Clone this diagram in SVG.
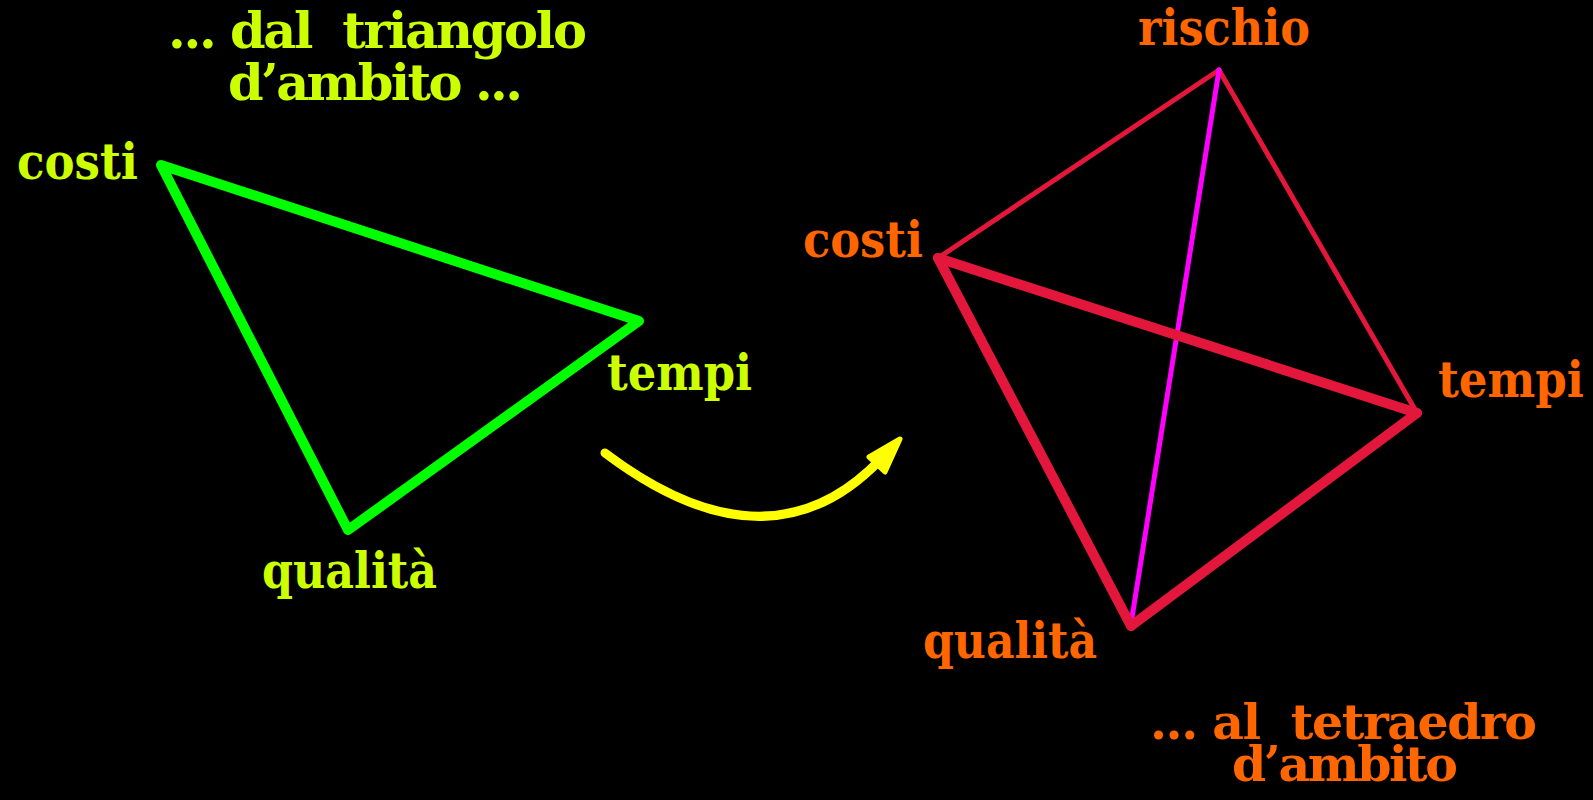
<svg xmlns="http://www.w3.org/2000/svg" width="1593" height="800" viewBox="0 0 1593 800">
<style>
  .t { font-family: "DejaVu Serif", "Liberation Serif", serif; font-weight: bold; font-size: 51px; white-space: pre; }
  .s { font-size: 49px; }
  .g { fill: #ccff00; }
  .o { fill: #ff6600; }
  .tri { fill: none; stroke: #00ff00; stroke-width: 10; stroke-linejoin: round; stroke-linecap: round; }
  .thin { stroke: #e3173b; stroke-width: 5; stroke-linecap: round; }
  .thick { stroke: #e3173b; stroke-width: 10; stroke-linecap: round; }
  .mag { stroke: #ff00ff; stroke-width: 5; stroke-linecap: round; }
</style>
<rect x="0" y="0" width="1593" height="800" fill="#000000"/>

<g id="connectors">
  <polygon id="triangle" class="tri" points="161,165 639,321 348,530"/>
  <line class="thin" x1="938" y1="258" x2="1219" y2="70"/>
  <line class="thin" x1="1219" y1="70" x2="1417" y2="413"/>
  <line class="mag" x1="1219" y1="70" x2="1131" y2="624"/>
  <line class="thick" x1="938" y1="258" x2="1417" y2="413"/>
  <line class="thick" x1="938" y1="258" x2="1131" y2="626"/>
  <line class="thick" x1="1131" y1="626" x2="1417" y2="413"/>
  <g id="arrow">
    <path d="M605,453 Q768,576 880,460" fill="none" stroke="#ffff00" stroke-width="9" stroke-linecap="round"/>
    <polygon points="900,439 869,457 885,472" fill="#ffff00" stroke="#ffff00" stroke-width="5" stroke-linejoin="round"/>
  </g>
</g>

<g id="title-left">
  <text class="t g" x="168" y="48" textLength="419" lengthAdjust="spacing">... dal  triangolo</text>
  <text class="t g" x="228" y="100" textLength="295" lengthAdjust="spacing">d’ambito ...</text>
</g>
<g id="node-costi-left"><text class="t g" x="17" y="179" textLength="121" lengthAdjust="spacingAndGlyphs">costi</text></g>
<g id="node-tempi-left"><text class="t g" x="607" y="390" textLength="145" lengthAdjust="spacingAndGlyphs">tempi</text></g>
<g id="node-qualita-left"><text class="t g" x="262" y="588" textLength="175" lengthAdjust="spacingAndGlyphs">qualità</text></g>

<g id="node-rischio"><text class="t o" x="1138" y="45" textLength="172" lengthAdjust="spacingAndGlyphs">rischio</text></g>
<g id="node-costi-right"><text class="t o" x="803" y="257" textLength="120" lengthAdjust="spacingAndGlyphs">costi</text></g>
<g id="node-tempi-right"><text class="t o" x="1438" y="397" textLength="146" lengthAdjust="spacingAndGlyphs">tempi</text></g>
<g id="node-qualita-right"><text class="t o" x="923" y="658" textLength="174" lengthAdjust="spacingAndGlyphs">qualità</text></g>
<g id="title-right">
  <text class="t o s" x="1150" y="739" textLength="387" lengthAdjust="spacing">... al  tetraedro</text>
  <text class="t o s" x="1232" y="781" textLength="226" lengthAdjust="spacing">d’ambito</text>
</g>
</svg>
